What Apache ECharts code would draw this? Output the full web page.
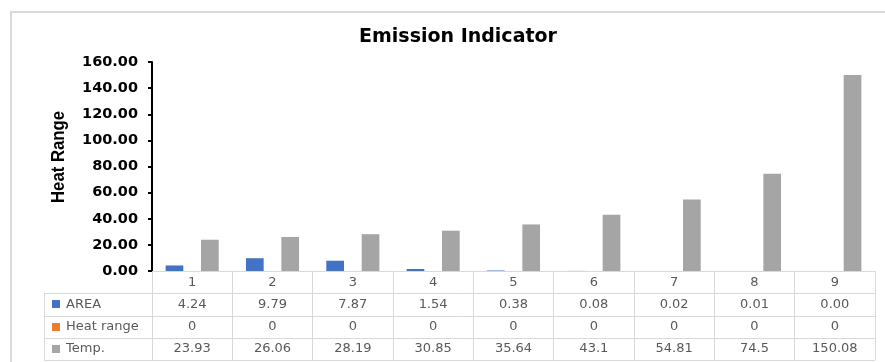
<!DOCTYPE html>
<html>
<head>
<meta charset="utf-8">
<script src="https://cdn.jsdelivr.net/npm/echarts@6/dist/echarts.min.js"></script>
<style>
  html, body { margin: 0; padding: 0; background: #ffffff; }
  #chart { width: 885px; height: 362px; }
</style>
</head>
<body>
<div id="chart"></div>
<script>
// Categories and series values
const categories = ['1', '2', '3', '4', '5', '6', '7', '8', '9'];
const areaValues = [4.24, 9.79, 7.87, 1.54, 0.38, 0.08, 0.02, 0.01, 0.00];
const heatRangeValues = [0, 0, 0, 0, 0, 0, 0, 0, 0];
const tempValues = [23.93, 26.06, 28.19, 30.85, 35.64, 43.1, 54.81, 74.5, 150.08];

const seriesNames = ['AREA', 'Heat range', 'Temp.'];
const seriesColors = ['#4472C4', '#ED7D31', '#A5A5A5'];

// Layout of the plot and the data table under it
const W = 885, H = 362;
const gridLeft = 152, gridRight = 875, gridTop = 62, gridBottom = 271;
const rowH = 22.25;
const tableLeft = 44;
const tableBottom = gridBottom + rowH * 4;
const lineColor = '#d9d9d9';
const tableText = '#595959';

const chart = echarts.init(document.getElementById('chart'), null, { renderer: 'canvas' });

// Table: horizontal rules and left border
const tableGraphics = [];
for (let r = 1; r <= 4; r++) {
  const y = Math.round(gridBottom + rowH * r) + 0.5;
  tableGraphics.push({
    type: 'line',
    shape: { x1: tableLeft, y1: y, x2: gridRight, y2: y },
    style: { stroke: lineColor, lineWidth: 1 },
    silent: true
  });
}
tableGraphics.push({
  type: 'line',
  shape: { x1: tableLeft + 0.5, y1: gridBottom + rowH, x2: tableLeft + 0.5, y2: tableBottom },
  style: { stroke: lineColor, lineWidth: 1 },
  silent: true
});
// Table: series keys in the first column
seriesNames.forEach((name, i) => {
  const cy = gridBottom + rowH * (i + 1.5);
  tableGraphics.push({
    type: 'rect',
    shape: { x: 52, y: Math.round(cy - 4), width: 8, height: 8 },
    style: { fill: seriesColors[i] },
    silent: true
  });
  tableGraphics.push({
    type: 'text',
    x: 66, y: cy,
    style: {
      text: name, fill: tableText,
      font: '13px "DejaVu Sans"',
      verticalAlign: 'middle', align: 'left'
    },
    silent: true
  });
});

// Outer chart frame
tableGraphics.push({
  type: 'rect',
  shape: { x: 11, y: 12, width: 900, height: 400 },
  style: { fill: 'none', stroke: lineColor, lineWidth: 2 },
  silent: true
});

// Vertical axis title
tableGraphics.push({
  type: 'text',
  x: 59, y: 157,
  rotation: Math.PI / 2,
  scaleX: 0.88,
  style: {
    text: 'Heat Range', fill: '#000000',
    font: 'bold 19px "Liberation Sans"',
    align: 'center', verticalAlign: 'middle'
  },
  silent: true
});

const option = {
  animation: false,
  backgroundColor: '#ffffff',
  title: {
    text: 'Emission Indicator',
    left: 453,
    top: 23,
    textAlign: 'center',
    textStyle: {
      fontFamily: 'DejaVu Sans',
      fontWeight: 'bold',
      fontSize: 19,
      color: '#000000'
    }
  },
  grid: {
    left: gridLeft,
    right: W - gridRight,
    top: gridTop,
    bottom: H - gridBottom,
    containLabel: false
  },
  xAxis: {
    type: 'category',
    data: categories,
    boundaryGap: true,
    axisLine: { show: true, lineStyle: { color: lineColor, width: 1 } },
    axisTick: {
      show: true,
      interval: 0,
      length: rowH * 4,
      lineStyle: { color: lineColor, width: 1 }
    },
    axisLabel: {
      interval: 0,
      margin: 0,
      formatter: (value, idx) =>
        '{h|' + value + '}\n' +
        '{v|' + areaValues[idx].toFixed(2) + '}\n' +
        '{v|' + String(heatRangeValues[idx]) + '}\n' +
        '{v|' + String(tempValues[idx]) + '}',
      rich: {
        h: { fontFamily: 'DejaVu Sans', fontSize: 13, color: tableText, lineHeight: rowH, align: 'center' },
        v: { fontFamily: 'DejaVu Sans', fontSize: 13, color: tableText, lineHeight: rowH, align: 'center' }
      }
    },
    splitLine: { show: false }
  },
  yAxis: {
    type: 'value',
    min: 0,
    max: 160,
    interval: 20,
    axisLine: { show: true, lineStyle: { color: '#000000', width: 2 } },
    axisTick: { show: true, length: 4, lineStyle: { color: '#000000', width: 2 } },
    axisLabel: {
      margin: 14,
      formatter: v => v.toFixed(2),
      fontFamily: 'DejaVu Sans',
      fontWeight: 'bold',
      fontSize: 14.5,
      color: '#000000'
    },
    splitLine: { show: false }
  },
  series: [
    { name: seriesNames[0], type: 'bar', data: areaValues, barWidth: 17.7, barGap: '0%', itemStyle: { color: seriesColors[0] } },
    { name: seriesNames[1], type: 'bar', data: heatRangeValues, barWidth: 17.7, barGap: '0%', itemStyle: { color: seriesColors[1] } },
    { name: seriesNames[2], type: 'bar', data: tempValues, barWidth: 17.7, barGap: '0%', itemStyle: { color: seriesColors[2] } }
  ],
  graphic: tableGraphics
};

chart.setOption(option);
</script>
</body>
</html>
